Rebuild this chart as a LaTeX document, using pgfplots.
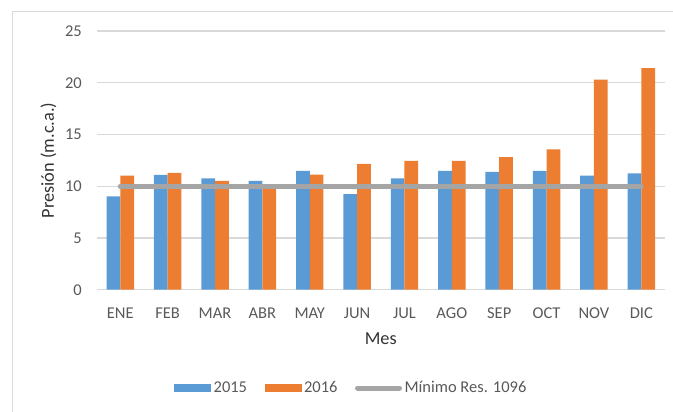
\documentclass[border=0pt]{standalone}
\usepackage{pgfplots}
\pgfplotsset{compat=1.18}
\usepackage{fontspec}
\setmainfont{Carlito}
\definecolor{c15}{HTML}{5B9BD5}
\definecolor{c16}{HTML}{ED7D31}
\definecolor{cmin}{HTML}{A5A5A5}
\definecolor{cgrid}{HTML}{D9D9D9}
\definecolor{ctxt}{HTML}{595959}
\newcommand{\chartfont}{\fontsize{16.5bp}{20bp}\selectfont}
\newcommand{\titlefont}{\fontsize{18.3bp}{22bp}\selectfont}
\pgfplotsset{
  barleg/.style={legend image code/.code={\fill[##1] (0bp,-4bp) rectangle (37bp,4bp);}},
  lineleg/.style={legend image code/.code={\draw[##1] (0bp,0bp) -- (42bp,0bp);}},
}

\begin{document}
\begin{tikzpicture}
\useasboundingbox (0,0) rectangle (673bp,-412bp);
\draw[cgrid, line width=1bp] (12bp,-412bp) -- (12bp,-11bp) -- (673bp,-11bp);
\begin{axis}[
  at={(96.6bp,-289.7bp)}, anchor=south west,
  scale only axis, width=568.4bp, height=258.7bp,
  xmin=-0.5, xmax=11.5, ymin=0, ymax=25,
  xtick={0,...,11},
  xticklabels={ENE,FEB,MAR,ABR,MAY,JUN,JUL,AGO,SEP,OCT,NOV,DIC},
  ytick={0,5,...,25},
  ymajorgrids, grid style={cgrid, line width=1.2bp},
  axis line style={draw=none}, tick style={draw=none},
  /pgf/number format/assume math mode=true,
  tick label style={font=\chartfont, text=ctxt, inner sep=0pt},
  xticklabel style={anchor=base, yshift=-29bp},
  yticklabel style={anchor=east, xshift=-14.6bp},
  xlabel={Mes}, ylabel={Presión (m.c.a.)},
  label style={font=\titlefont, text=black!80},
  xlabel style={at={(axis description cs:0.5,-0.1906)}, anchor=center},
  ylabel style={at={(axis description cs:-0.0846,0.5)}, anchor=center},
  legend columns=3,
  legend style={at={(axis description cs:0.4485,-0.38)}, anchor=center,
    draw=none, fill=none, font=\chartfont, text=ctxt,
    nodes={inner sep=2.5bp},
    /tikz/every even column/.append style={column sep=15bp}},
]
\addplot[ybar, bar width=0.29, bar shift=-0.145, fill=c15, draw=none, barleg]
  coordinates {(0,9.03) (1,11.10) (2,10.77) (3,10.52) (4,11.48) (5,9.23)
               (6,10.77) (7,11.48) (8,11.39) (9,11.48) (10,11.03) (11,11.23)};
\addlegendentry{2015}
\addplot[ybar, bar width=0.29, bar shift=0.145, fill=c16, draw=none, barleg]
  coordinates {(0,11.03) (1,11.29) (2,10.52) (3,10.0) (4,11.13) (5,12.16)
               (6,12.45) (7,12.45) (8,12.81) (9,13.55) (10,20.29) (11,21.42)};
\addlegendentry{2016}
\addplot[cmin, line width=5bp, line cap=round, mark=none, lineleg]
  coordinates {(0,10) (11,10)};
\addlegendentry{Mínimo Res. 1096}
\end{axis}
\end{tikzpicture}
\end{document}
